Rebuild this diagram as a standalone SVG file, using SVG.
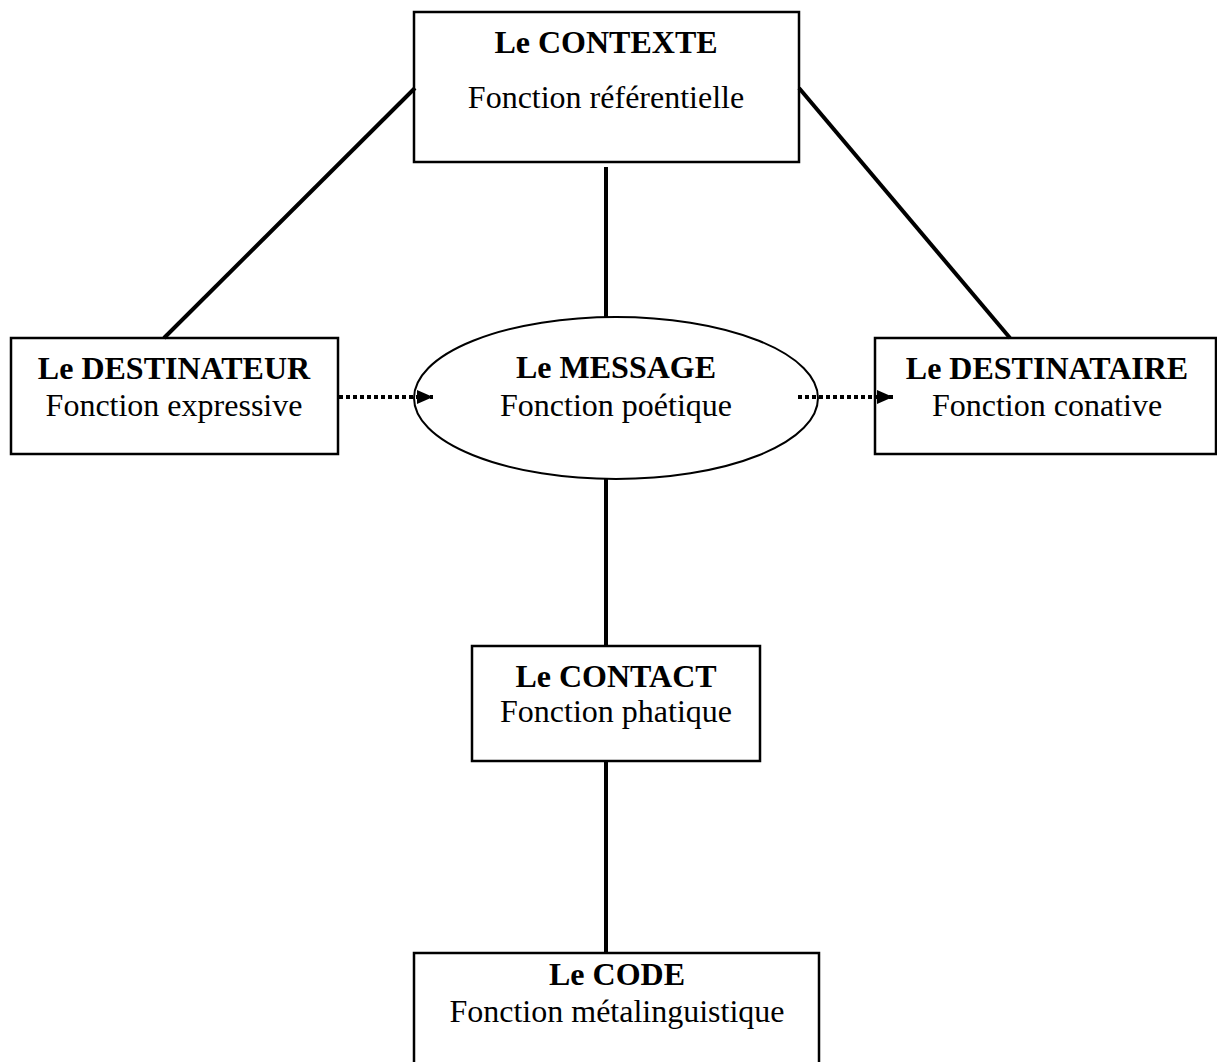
<svg xmlns="http://www.w3.org/2000/svg" width="1217" height="1062" viewBox="0 0 1217 1062">
<style>
.box{fill:#fff;stroke:#000;stroke-width:2.5}
.t{font-family:"Liberation Serif","Times New Roman",serif;font-size:32px;text-anchor:middle;fill:#000}
.b{font-weight:bold}
.solid{stroke:#000;stroke-width:4;fill:none}
.dot{stroke:#000;stroke-width:4;stroke-dasharray:4 3;fill:none}
</style>
<defs>
<marker id="arr" markerUnits="userSpaceOnUse" markerWidth="16" markerHeight="14" refX="16" refY="7" orient="auto">
<path d="M0,0 L16,7 L0,14 Z" fill="#000"/>
</marker>
</defs>
<rect width="1217" height="1062" fill="#fff"/>
<g id="contexte">
<rect class="box" x="414" y="12" width="385" height="150"/>
<text class="t b" x="606" y="53">Le CONTEXTE</text>
<text class="t" x="606" y="108">Fonction référentielle</text>
</g>
<g id="destinateur">
<rect class="box" x="11" y="338" width="327" height="116"/>
<text class="t b" x="174" y="379">Le DESTINATEUR</text>
<text class="t" x="174" y="416">Fonction expressive</text>
</g>
<g id="message">
<ellipse cx="616" cy="398" rx="202" ry="81" fill="none" stroke="#000" stroke-width="2"/>
<text class="t b" x="616" y="378">Le MESSAGE</text>
<text class="t" x="616" y="416">Fonction poétique</text>
</g>
<g id="destinataire">
<rect class="box" x="875" y="338" width="341" height="116"/>
<text class="t b" x="1047" y="379">Le DESTINATAIRE</text>
<text class="t" x="1047" y="416">Fonction conative</text>
</g>
<g id="contact">
<rect class="box" x="472" y="646" width="288" height="115"/>
<text class="t b" x="616" y="687">Le CONTACT</text>
<text class="t" x="616" y="722">Fonction phatique</text>
</g>
<g id="code">
<rect class="box" x="414" y="953" width="405" height="120"/>
<text class="t b" x="617" y="985">Le CODE</text>
<text class="t" x="617" y="1022">Fonction métalinguistique</text>
</g>
<g id="connectors">
<line class="solid" x1="415" y1="88" x2="164" y2="338"/>
<line class="solid" x1="799" y1="88" x2="1010" y2="338"/>
<line class="solid" x1="606" y1="167" x2="606" y2="317"/>
<line class="solid" x1="606" y1="479" x2="606" y2="646"/>
<line class="solid" x1="606" y1="761" x2="606" y2="953"/>
<line class="dot" x1="339" y1="397" x2="433" y2="397" marker-end="url(#arr)"/>
<line class="dot" x1="798" y1="397" x2="893" y2="397" marker-end="url(#arr)"/>
</g>
</svg>
